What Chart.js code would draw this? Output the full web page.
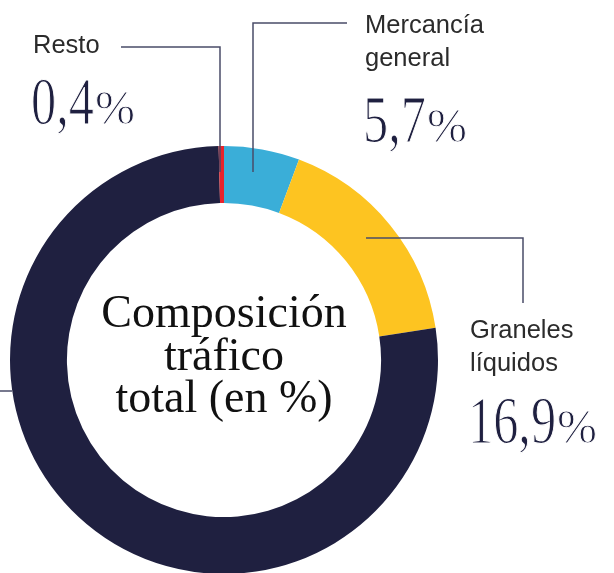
<!DOCTYPE html>
<html>
<head>
<meta charset="utf-8">
<script src="https://cdn.jsdelivr.net/npm/chart.js@4"></script>
<style>
  html, body { margin: 0; padding: 0; background: #fff; overflow: hidden; }
  #wrap { width: 614px; height: 573px; overflow: hidden; }
</style>
</head>
<body>
<div id="wrap"><canvas id="chartCanvas" width="614" height="574"></canvas></div>
<script>
// data, clockwise from the top
var categories = ['Mercancía general', 'Graneles líquidos', 'Graneles sólidos', 'Resto'];
var labelLines = [['Mercancía', 'general'], ['Graneles', 'líquidos'], ['Graneles', 'sólidos'], ['Resto']];
var shares = [5.7, 16.9, 77.0, 0.4];
var shareText = ['5,7', '16,9', '77,0', '0,4'];
var colors = ['#3aaed8', '#fdc421', '#1f2040', '#e8232b'];
var centerTitle = ['Composición', 'tráfico', 'total (en %)'];

var lineColor = '#4a4c68';

// callouts: label anchor, value baseline + leader polyline, by segment index
var callouts = [
    { index: 0, x: 365, y: 33, numY: 142, path: [[347, 23], [253, 23], [253, 172]] },
    { index: 1, x: 470, y: 338, numY: 443, path: [[366, 238], [523, 238], [523, 303]] },
    { index: 2, x: -200, y: 380, numY: 480, path: [[0, 391], [12, 391]] },
    { index: 3, x: 33, y: 53, numY: 124, path: [[121, 47], [220, 47], [220, 172]] }
];

var labelsPlugin = {
    id: 'labelsPlugin',
    afterDraw: function(chart) {
        var c = chart.ctx;
        var arc0 = chart.getDatasetMeta(0).data[0];
        var cx = arc0.x;

        // centre title
        c.save();
        c.fillStyle = '#111';
        c.textAlign = 'center';
        c.textBaseline = 'alphabetic';
        c.font = '46px "Liberation Serif", "DejaVu Serif", serif';
        c.fillText(centerTitle[0], cx, 327);
        c.fillText(centerTitle[1], cx, 370);
        c.fillText(centerTitle[2], cx, 412);
        c.restore();

        callouts.forEach(function(co) {
            // leader line
            c.save();
            c.strokeStyle = lineColor;
            c.lineWidth = 1.5;
            c.beginPath();
            co.path.forEach(function(p, i) {
                if (i === 0) c.moveTo(p[0], p[1]); else c.lineTo(p[0], p[1]);
            });
            c.stroke();
            c.restore();

            // name
            c.save();
            c.fillStyle = '#2b2b2b';
            c.textAlign = 'left';
            c.font = '25.5px "Liberation Sans", Arial, sans-serif';
            var lines = labelLines[co.index];
            lines.forEach(function(t, i) {
                c.fillText(t, co.x, co.y + i * 33);
            });

            // value, narrow light serif digits + smaller percent sign
            c.fillStyle = '#1f2040';
            c.strokeStyle = '#ffffff';
            c.lineWidth = 1.2;
            c.font = '68px "Liberation Serif", "DejaVu Serif", serif';
            var txt = shareText[co.index];
            var sx = 0.74;
            var w = c.measureText(txt).width * sx;
            c.save();
            c.translate(co.x - 2, co.numY);
            c.scale(sx, 1);
            c.fillText(txt, 0, 0);
            c.strokeText(txt, 0, 0);
            c.restore();
            c.font = '48px "Liberation Serif", "DejaVu Serif", serif';
            c.lineWidth = 1;
            c.fillText('%', co.x - 1 + w, co.numY);
            c.strokeText('%', co.x - 1 + w, co.numY);
            c.restore();
        });
    }
};

var ctx = document.getElementById('chartCanvas');

var myChart = new Chart(ctx, {
    type: 'doughnut',
    data: {
        labels: categories,
        datasets: [{
            data: shares,
            backgroundColor: colors,
            borderWidth: 0,
            hoverOffset: 0
        }]
    },
    options: {
        responsive: false,
        animation: false,
        cutout: '73.4%',
        layout: {
            padding: { left: 10, top: 146, right: 176, bottom: 0 }
        },
        plugins: {
            legend: { display: false },
            tooltip: { enabled: false }
        }
    },
    plugins: [labelsPlugin]
});
</script>
</body>
</html>
